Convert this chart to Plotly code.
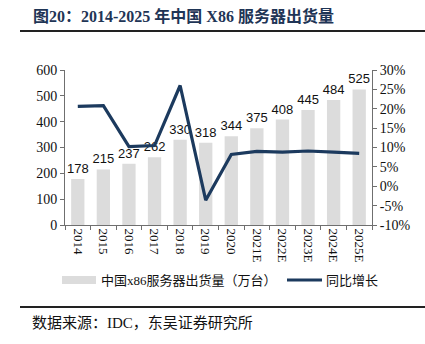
import plotly.graph_objects as go

years = ["2014", "2015", "2016", "2017", "2018", "2019", "2020",
         "2021E", "2022E", "2023E", "2024E", "2025E"]
shipments = [178, 215, 237, 262, 330, 318, 344, 375, 408, 445, 484, 525]
growth = [20.6, 20.8, 10.2, 10.5, 26.0, -3.6, 8.2, 9.0, 8.8, 9.1, 8.8, 8.5]

left_ticks = [0, 100, 200, 300, 400, 500, 600]
right_ticks = [-10, -5, 0, 5, 10, 15, 20, 25, 30]

SERIF = "Liberation Serif, Times New Roman, serif"
CJK = "Liberation Serif, Noto Sans CJK SC, serif"
NAVY = "#1c3a5e"
GRAY = "#dcdcdc"
AX = "#6f6f6f"

fig = go.Figure()
fig.add_trace(go.Bar(
    x=years, y=shipments, marker=dict(color=GRAY, line=dict(width=0)),
    text=[str(v) for v in shipments], textposition="outside", constraintext="none",
    textfont=dict(family="Liberation Sans, Arial, sans-serif", size=13, color="#111"),
    cliponaxis=False, showlegend=False, name="中国x86服务器出货量（万台）"))
fig.add_trace(go.Scatter(
    x=years, y=growth, yaxis="y2", mode="lines",
    line=dict(color=NAVY, width=3.2), showlegend=False, name="同比增长"))

fig.update_layout(
    width=425, height=344,
    margin=dict(l=65, r=53, t=70, b=119),
    paper_bgcolor="white", plot_bgcolor="white",
    bargap=0.48,
    xaxis=dict(type="category", tickangle=90, showline=True, linecolor=AX,
               ticks="outside", tickson="boundaries", ticklen=4, tickcolor=AX,
               tickfont=dict(family=SERIF, size=13, color="#111"), showgrid=False),
    yaxis=dict(range=[0, 600], tickvals=left_ticks, showline=True, linecolor=AX,
               ticks="outside", ticklen=4, tickcolor=AX, showgrid=False, zeroline=False,
               tickfont=dict(family=SERIF, size=14, color="#111")),
    yaxis2=dict(range=[-10, 30], overlaying="y", side="right", tickvals=right_ticks,
                ticktext=[f"{v}%" for v in right_ticks], showline=True, linecolor=AX,
                ticks="outside", ticklen=4, tickcolor=AX, showgrid=False, zeroline=False,
                tickfont=dict(family=SERIF, size=14, color="#111")),
)

# helper: convert pixel positions to paper coords
PL, PR, PT, PB = 65, 372, 70, 225
def px(x):
    return (x - PL) / (PR - PL)
def py(y):
    return (PB - y) / (PB - PT)

shapes = [
    dict(type="line", xref="paper", yref="paper", x0=px(20), x1=px(425), y0=py(31), y1=py(31),
         line=dict(color="#222", width=2)),
    dict(type="line", xref="paper", yref="paper", x0=px(20), x1=px(425), y0=py(307), y1=py(307),
         line=dict(color="#222", width=2)),
    dict(type="rect", xref="paper", yref="paper", x0=px(62), x1=px(96), y0=py(284), y1=py(276),
         fillcolor=GRAY, line=dict(width=0)),
    dict(type="line", xref="paper", yref="paper", x0=px(287), x1=px(322), y0=py(280), y1=py(280),
         line=dict(color=NAVY, width=3)),
]
fig.update_layout(shapes=shapes)

annotations = [
    dict(text="<b>图20：2014-2025 年中国 X86 服务器出货量</b>", xref="paper", yref="paper",
         x=px(31), y=py(16), xanchor="left", yanchor="middle", showarrow=False,
         font=dict(family=CJK, size=16, color="#1f3556")),
    dict(text="中国x86服务器出货量（万台）", xref="paper", yref="paper",
         x=px(99), y=py(280), xanchor="left", yanchor="middle", showarrow=False,
         font=dict(family=CJK, size=13, color="#111")),
    dict(text="同比增长", xref="paper", yref="paper",
         x=px(324), y=py(280), xanchor="left", yanchor="middle", showarrow=False,
         font=dict(family=CJK, size=13, color="#111")),
    dict(text="数据来源：IDC，东吴证券研究所", xref="paper", yref="paper",
         x=px(30), y=py(323), xanchor="left", yanchor="middle", showarrow=False,
         font=dict(family=CJK, size=15, color="#111")),
]
fig.update_layout(annotations=annotations)

fig.write_html("out.html")
